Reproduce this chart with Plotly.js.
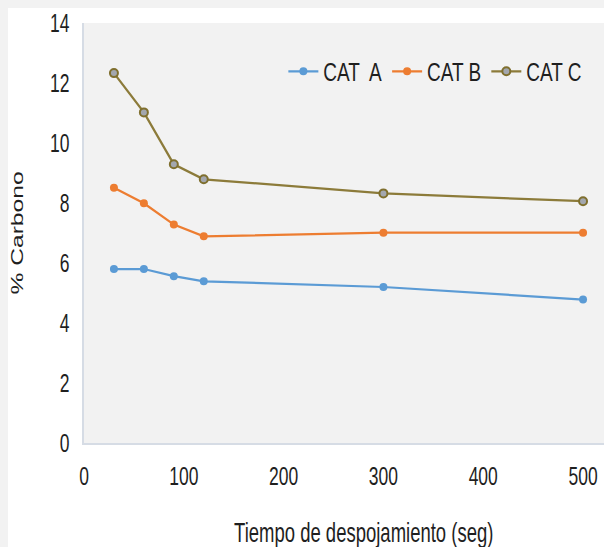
<!DOCTYPE html>
<html>
<head>
<meta charset="utf-8">
<script src="https://cdn.plot.ly/plotly-3.0.1.min.js"></script>
<style>
  html, body { margin: 0; padding: 0; background: #f2f2f2; width: 604px; height: 547px; overflow: hidden; }
  #chart { position: absolute; left: 8px; top: 8px; width: 596px; height: 539px; }
</style>
</head>
<body>
<div id="chart"></div>
<script>
const tiempo = [30, 60, 90, 120, 300, 500];
const catA = [5.80, 5.80, 5.56, 5.39, 5.20, 4.78];
const catB = [8.51, 7.99, 7.28, 6.89, 7.01, 7.01];
const catC = [12.33, 11.02, 9.29, 8.79, 8.32, 8.06];
const seriesNames = ['CAT  A', 'CAT B', 'CAT C'];
const xTicks = [0, 100, 200, 300, 400, 500];
const yTicks = [0, 2, 4, 6, 8, 10, 12, 14];
const xTitle = 'Tiempo de despojamiento (seg)';
const yTitle = '% Carbono';

const FONT = 'Liberation Sans, Arial, sans-serif';
const TXT = '#1f1f1f';
const FS = 17.5;

const traces = [
  { x: tiempo, y: catA, name: seriesNames[0], mode: 'lines+markers',
    line: { color: '#5b9bd5', width: 2.25 },
    marker: { color: '#5b9bd5', size: 8, symbol: 'circle' } },
  { x: tiempo, y: catB, name: seriesNames[1], mode: 'lines+markers',
    line: { color: '#ed7d31', width: 2.25 },
    marker: { color: '#ed7d31', size: 8, symbol: 'circle' } },
  { x: tiempo, y: catC, name: seriesNames[2], mode: 'lines+markers',
    line: { color: '#8c7b3a', width: 2.25 },
    marker: { color: '#a3a7ae', size: 8, symbol: 'circle', line: { color: '#7f6f2e', width: 2 } } }
];

const layout = {
  width: 596, height: 539,
  margin: { l: 76, r: 0, t: 15, b: 104 },
  paper_bgcolor: '#ffffff',
  plot_bgcolor: '#f2f2f2',
  font: { family: FONT, color: TXT, size: FS },
  showlegend: true,
  legend: {
    orientation: 'h', x: 0.968, y: 0.93, xanchor: 'right', yanchor: 'top',
    bgcolor: 'rgba(0,0,0,0)', font: { family: FONT, size: 19, color: TXT },
    itemwidth: 30, tracegroupgap: 0
  },
  xaxis: {
    range: [0, 521], tickvals: xTicks, ticktext: xTicks.map(String),
    showgrid: false, zeroline: false, showline: true, linecolor: '#d6dce5', linewidth: 2,
    ticks: '', ticklabelstandoff: 16, automargin: false,
    tickfont: { family: FONT, size: FS, color: TXT },
    fixedrange: true
  },
  yaxis: {
    range: [0, 14], tickvals: yTicks, ticktext: yTicks.map(String),
    showgrid: false, zeroline: false, showline: true, linecolor: '#d6dce5', linewidth: 2,
    ticks: '', ticklabelstandoff: 9, automargin: false,
    tickfont: { family: FONT, size: FS, color: TXT },
    title: { text: yTitle, font: { family: FONT, size: 17, color: TXT }, standoff: 26 },
    fixedrange: true
  },
  annotations: [
    { text: xTitle, xref: 'paper', yref: 'paper', x: 0.537, y: -0.212,
      xanchor: 'center', yanchor: 'middle', showarrow: false,
      font: { family: FONT, size: FS + 1, color: TXT } }
  ]
};

function stretchText(gd) {
  gd.querySelectorAll('svg text').forEach(function (t) {
    const bb = t.getBBox();
    if (!bb.width) return;
    const cx = bb.x + bb.width / 2, cy = bb.y + bb.height / 2;
    const tr = t.getAttribute('transform') || '';
    const inLegend = !!t.closest('.legend');
    const k = inLegend ? 1.33 : 1.45;
    const sc = tr.indexOf('rotate') >= 0 ? 'scale(' + k + ',1)' : 'scale(1,' + k + ')';
    t.setAttribute('transform', tr + ' translate(' + cx + ',' + cy + ') ' + sc + ' translate(' + (-cx) + ',' + (-cy) + ')');
  });
}

Plotly.newPlot('chart', traces, layout, { staticPlot: true, displayModeBar: false }).then(stretchText);
</script>
</body>
</html>
